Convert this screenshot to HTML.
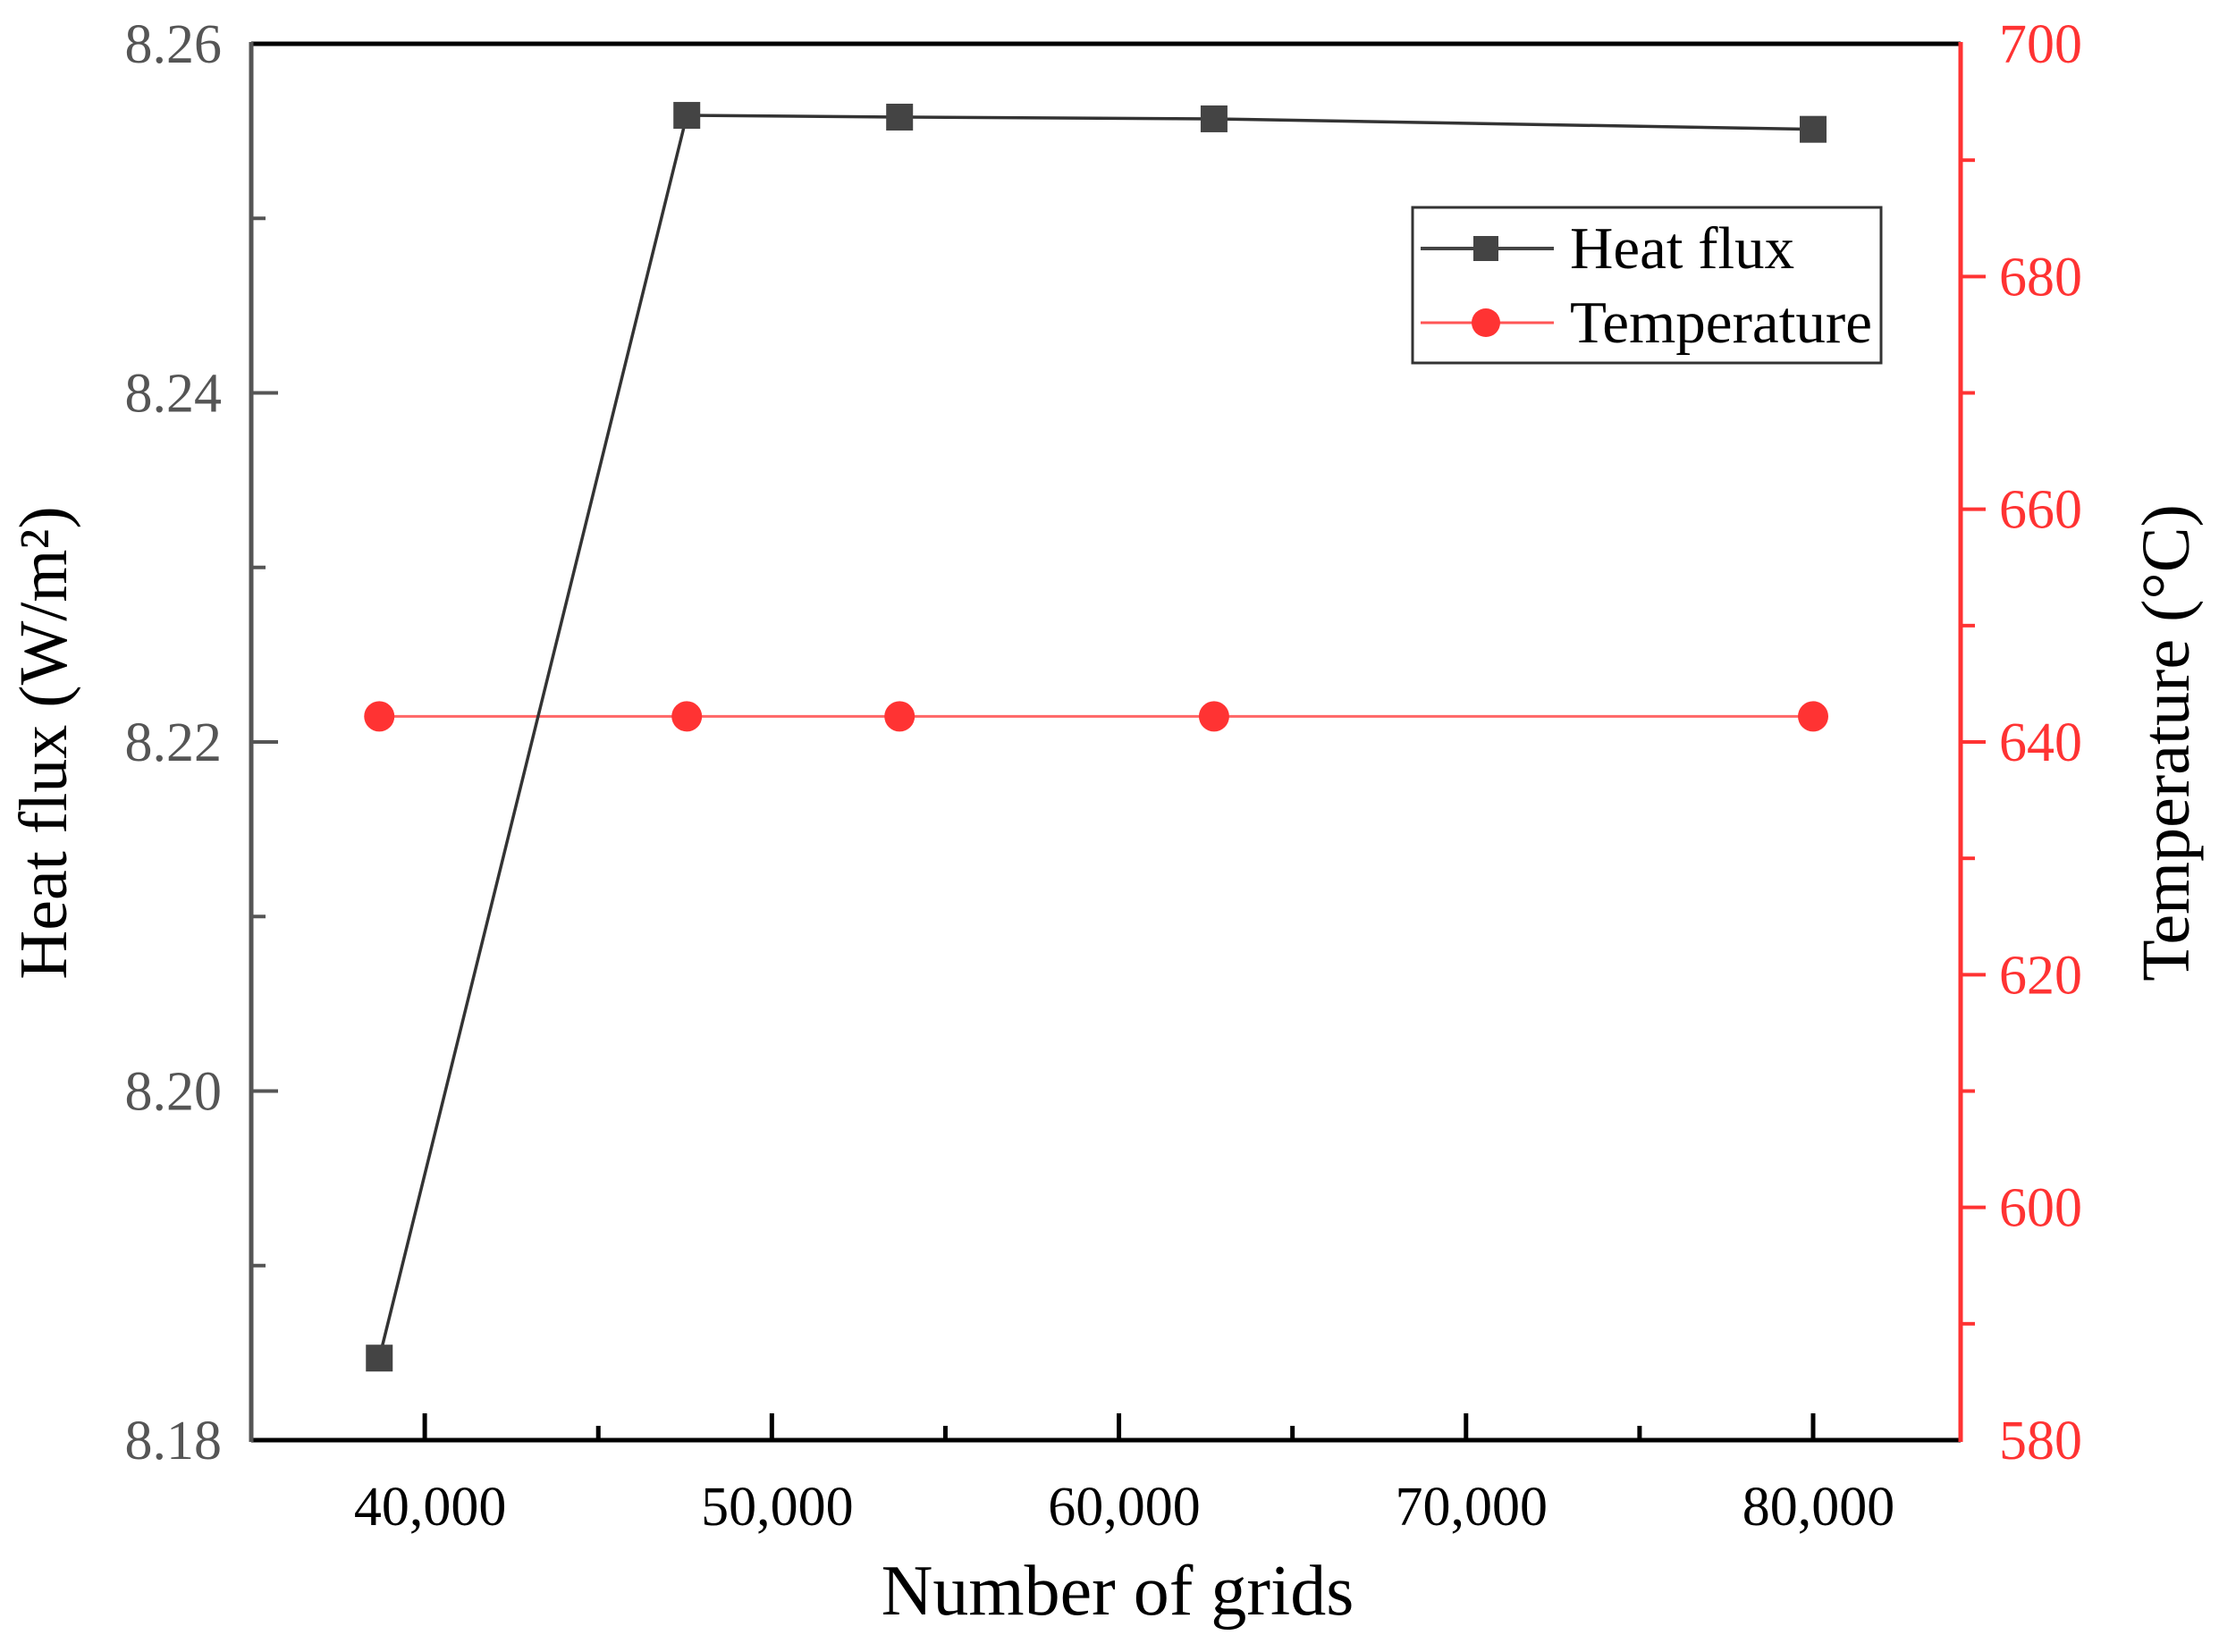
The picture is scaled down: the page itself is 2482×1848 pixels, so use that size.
<!DOCTYPE html>
<html><head><meta charset="utf-8"><style>
html,body{margin:0;padding:0;background:#fff}
svg{display:block}
text{font-family:"Liberation Serif",serif}
</style></head><body>
<svg id="chart" width="2482" height="1848" viewBox="0 0 2482 1848" xmlns="http://www.w3.org/2000/svg">
<g id="axes"></g>
<g id="series"></g>
<g id="legend">
  <rect x="1580" y="232" width="524" height="174" fill="#fff" stroke="#333" stroke-width="3"/>
  <g>
    <line x1="1589" y1="278" x2="1738" y2="278" stroke="#444" stroke-width="4"/>
    <rect x="1648" y="264" width="28" height="28" fill="#444"/>
    <text x="1756" y="300" font-size="67" fill="#000">Heat flux</text>
  </g>
  <g>
    <line x1="1589" y1="361" x2="1738" y2="361" stroke="#ff5555" stroke-width="3"/>
    <circle cx="1662" cy="361" r="16" fill="#ff3333"/>
    <text x="1756" y="383" font-size="67" fill="#000" textLength="338" lengthAdjust="spacingAndGlyphs">Temperature</text>
  </g>
</g>
<text x="1250" y="1806" font-size="80" text-anchor="middle" fill="#000">Number of grids</text>
<text transform="translate(74,831) rotate(-90)" font-size="76" text-anchor="middle" fill="#000">Heat flux (W/m²)</text>
<text transform="translate(2448,831) rotate(-90)" font-size="76" text-anchor="middle" fill="#000">Temperature (°C)</text>
</svg>
<script>
const grids = [38690, 47550, 53680, 62740, 80000];
const heatFlux = [8.1847, 8.2559, 8.2558, 8.2557, 8.2551];
const temperature = [642.2, 642.2, 642.2, 642.2, 642.2];
const xTicks = [40000, 50000, 60000, 70000, 80000];
const xTickLabels = ["40,000", "50,000", "60,000", "70,000", "80,000"];
const leftTicks = [8.18, 8.20, 8.22, 8.24, 8.26];
const leftTickLabels = ["8.18", "8.20", "8.22", "8.24", "8.26"];
const rightTicks = [580, 600, 620, 640, 660, 680, 700];

const L = 281, R = 2193, T = 49, B = 1611;
const xMin = 35000, xMax = 84250, yLMin = 8.18, yLMax = 8.26, yRMin = 580, yRMax = 700;
const sx = v => L + (v - xMin) / (xMax - xMin) * (R - L);
const syL = v => B - (v - yLMin) / (yLMax - yLMin) * (B - T);
const syR = v => B - (v - yRMin) / (yRMax - yRMin) * (B - T);
const NS = "http://www.w3.org/2000/svg";
function mk(tag, attrs, parent) {
  const e = document.createElementNS(NS, tag);
  for (const k in attrs) e.setAttribute(k, attrs[k]);
  parent.appendChild(e);
  return e;
}
const axes = document.getElementById('axes');
const series = document.getElementById('series');

let e = mk('line', {x1: L, y1: T, x2: R, y2: T, stroke: '#000', 'stroke-width': 5}, axes);


e = mk('line', {x1: L, y1: B, x2: R, y2: B, stroke: '#000', 'stroke-width': 5}, axes);


e = mk('line', {x1: L, y1: T - 2, x2: L, y2: B + 2, stroke: '#555', 'stroke-width': 5}, axes);


e = mk('line', {x1: R, y1: T - 2, x2: R, y2: B + 2, stroke: '#ff3333', 'stroke-width': 5}, axes);



for (let v = xMin + 5000; v < xMax; v += 5000) {
  const major = v % 10000 === 0;
  e = mk('line', {x1: sx(v), y1: B, x2: sx(v), y2: B - (major ? 30 : 16), stroke: '#000', 'stroke-width': 5}, axes);
  
  
}
xTicks.forEach((v, i) => {
  e = mk('text', {x: sx(v) + 6, y: 1706, 'font-size': 62, 'text-anchor': 'middle', fill: '#000'}, axes);
  e.textContent = xTickLabels[i];
  
  
});
for (let v = yLMin + 0.01; v < yLMax - 0.001; v += 0.01) {
  const major = Math.round(v * 100) % 2 === 0;
  e = mk('line', {x1: L, y1: syL(v), x2: L + (major ? 30 : 16), y2: syL(v), stroke: '#555', 'stroke-width': 4}, axes);
  
  
}
leftTicks.forEach((v, i) => {
  e = mk('text', {x: 248, y: syL(v) + 21, 'font-size': 62, 'text-anchor': 'end', fill: '#555'}, axes);
  e.textContent = leftTickLabels[i];
  
  
});
for (let v = yRMin + 10; v < yRMax; v += 10) {
  const major = v % 20 === 0;
  e = mk('line', {x1: R, y1: syR(v), x2: R + (major ? 28 : 16), y2: syR(v), stroke: '#ff3333', 'stroke-width': 4}, axes);
  
  
}
rightTicks.forEach(v => {
  e = mk('text', {x: 2236, y: syR(v) + 21, 'font-size': 62, 'text-anchor': 'start', fill: '#ff3333'}, axes);
  e.textContent = String(v);
  
  
});

e = mk('polyline', {points: grids.map((g, i) => sx(g) + ',' + syR(temperature[i])).join(' '), fill: 'none', stroke: '#ff6666', 'stroke-width': 3}, series);


grids.forEach((g, i) => {
  e = mk('circle', {cx: sx(g), cy: syR(temperature[i]), r: 17, fill: '#ff3333'}, series);
  
  
});
e = mk('polyline', {points: grids.map((g, i) => sx(g) + ',' + syL(heatFlux[i])).join(' '), fill: 'none', stroke: '#333', 'stroke-width': 3.5}, series);


grids.forEach((g, i) => {
  e = mk('rect', {x: sx(g) - 15, y: syL(heatFlux[i]) - 15, width: 30, height: 30, fill: '#444'}, series);
  
  
});
</script>
</body></html>
